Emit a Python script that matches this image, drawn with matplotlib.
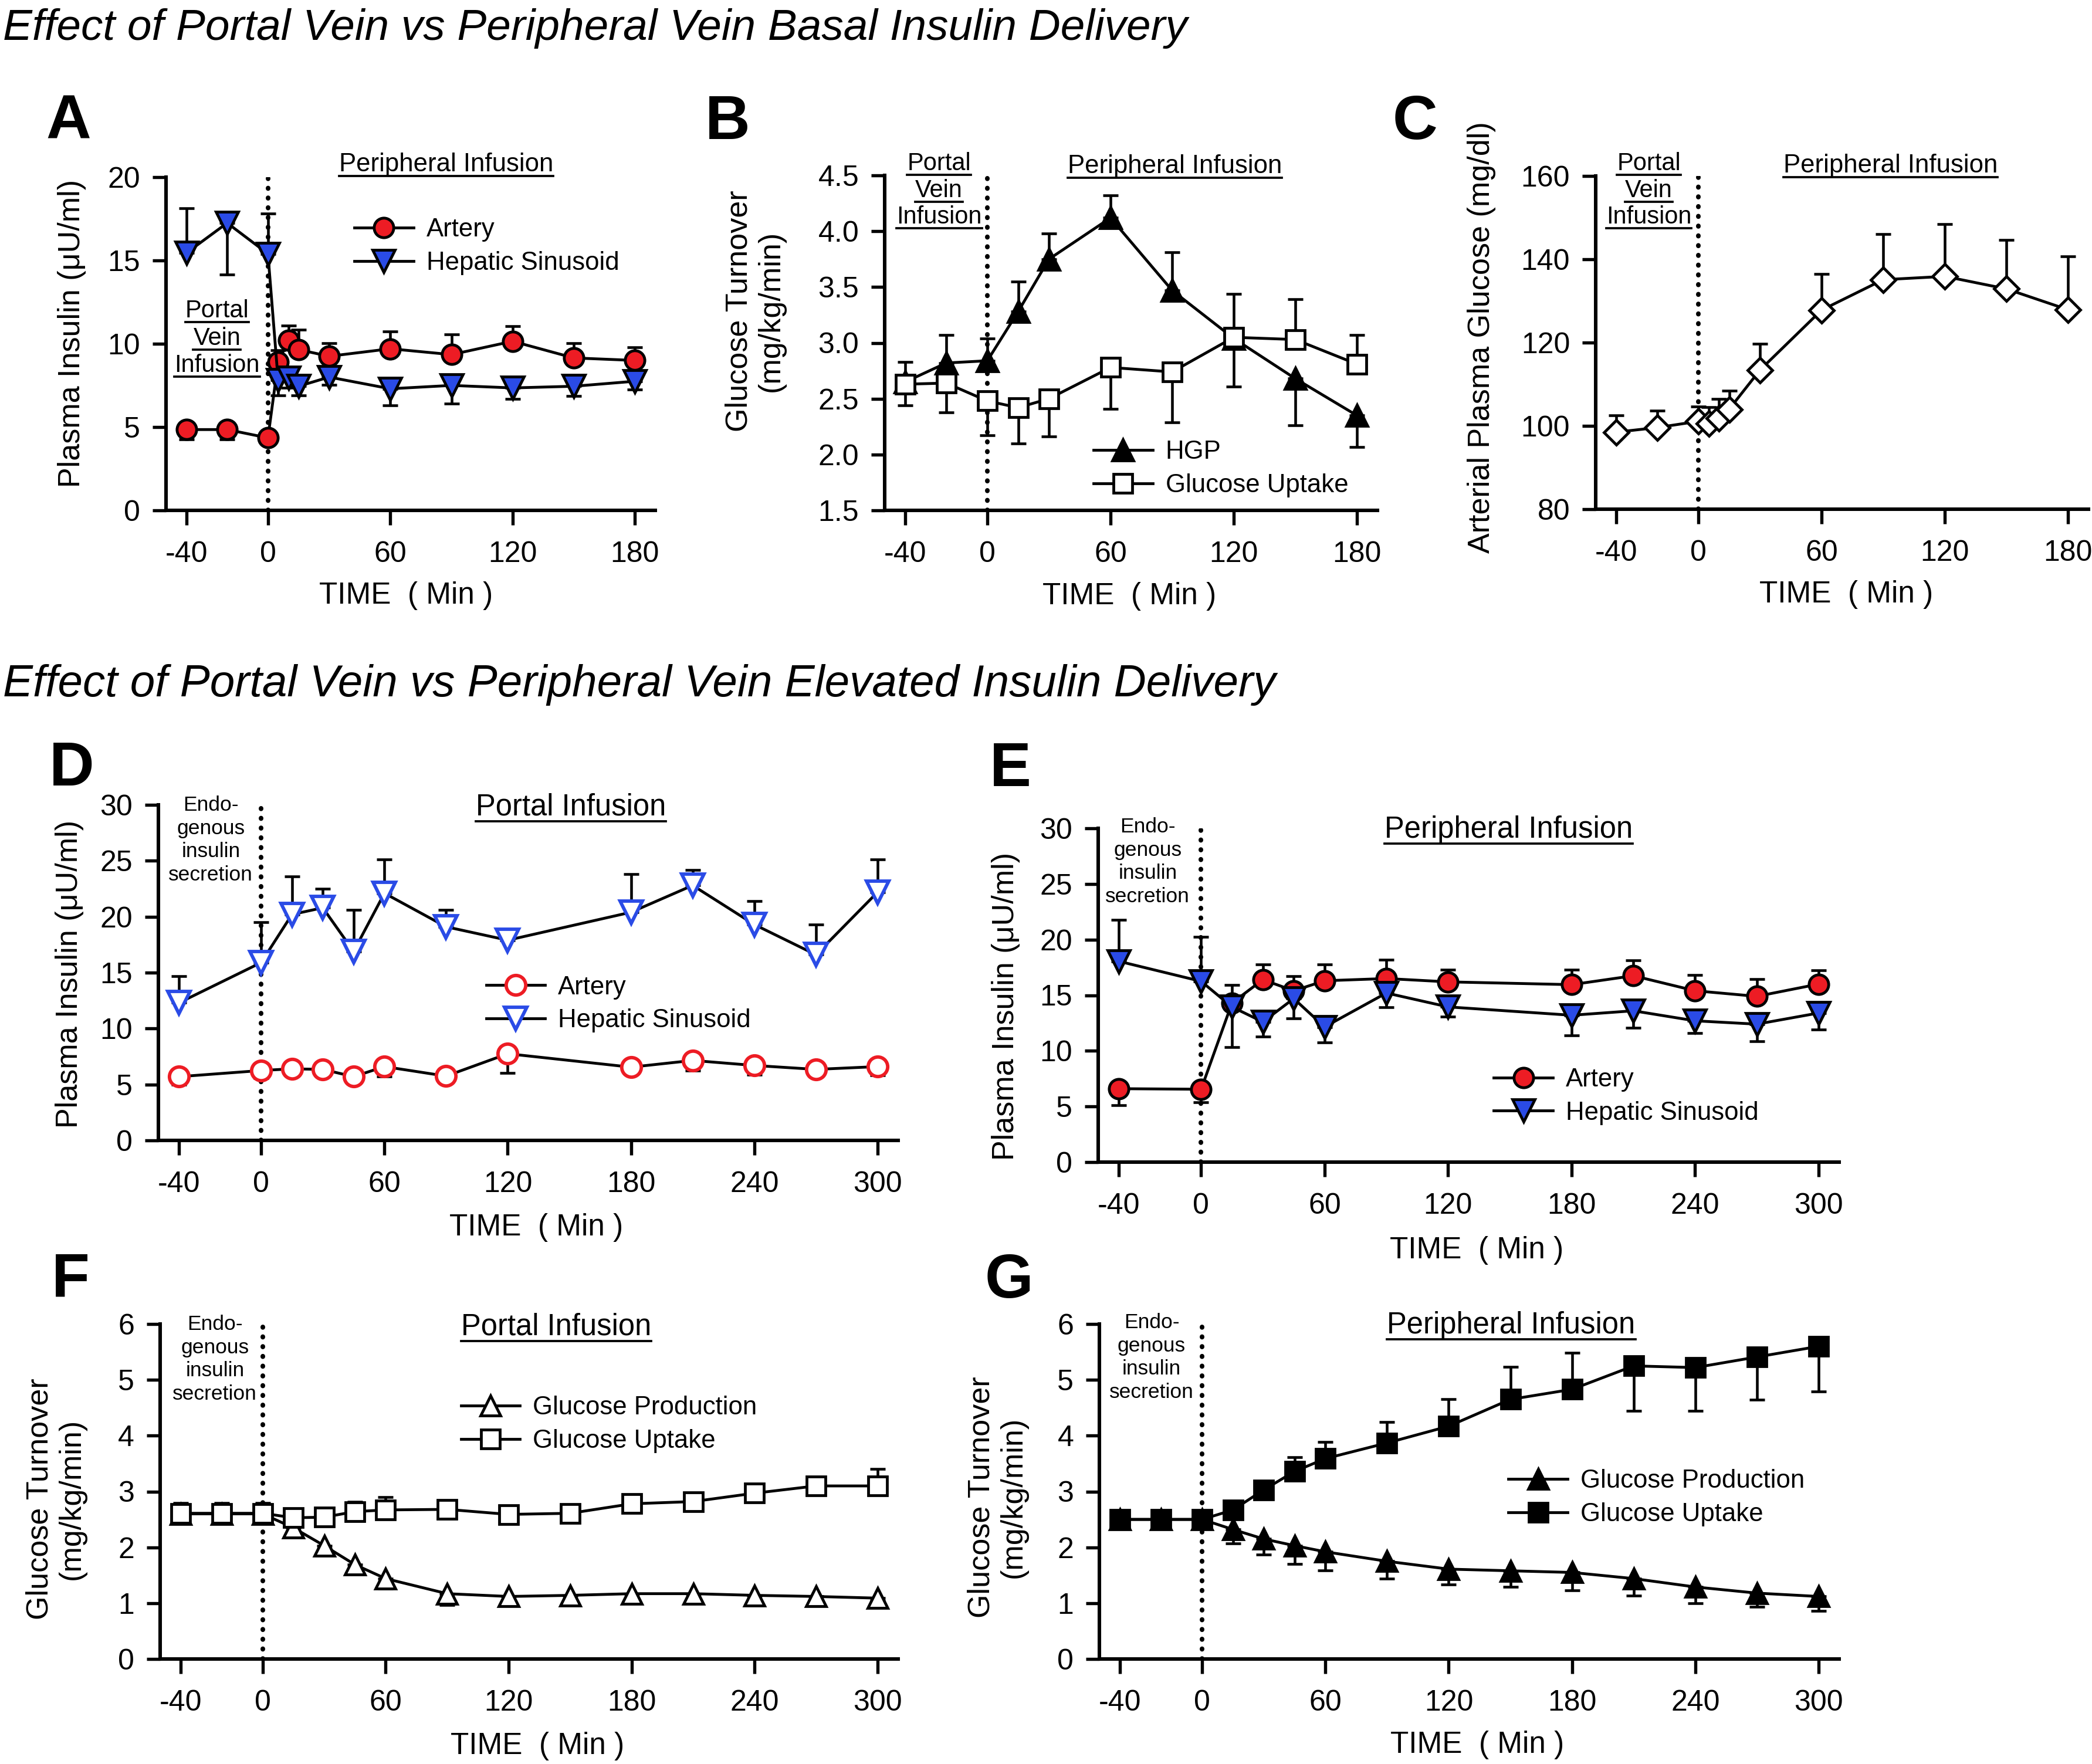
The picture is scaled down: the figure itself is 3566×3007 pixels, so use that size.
import matplotlib
matplotlib.use('Agg')
import matplotlib.pyplot as plt
from matplotlib.lines import Line2D

# ---- data ----
# A: basal insulin, plasma insulin (uU/ml)
a_t = [-40, -20, 0, 5, 10, 15, 30, 60, 90, 120, 150, 180]
a_art = [4.85, 4.85, 4.35, 8.9, 10.2, 9.65, 9.25, 9.7, 9.35, 10.15, 9.15, 9.0]
a_art_lo = [0.6, 0.6, 0, 0, 0, 0, 0, 0, 0, 0, 0, 0]
a_art_hi = [0, 0, 0, 0.7, 0.9, 1.2, 0.8, 1.05, 1.2, 0.9, 0.9, 0.8]
a_sin = [15.45, 17.25, 15.4, 7.8, 7.95, 7.45, 8.0, 7.3, 7.5, 7.35, 7.45, 7.75]
a_sin_lo = [0, 3.1, 0, 0.9, 0.6, 0.55, 0.45, 1.0, 1.1, 0.65, 0.6, 0.5]
a_sin_hi = [2.7, 0, 2.4, 0, 0, 0, 0, 0, 0, 0, 0, 0]

# B: basal insulin, glucose turnover
b_t = [-40, -20, 0, 15, 30, 60, 90, 120, 150, 180]
b_hgp = [2.65, 2.82, 2.84, 3.28, 3.75, 4.12, 3.47, 3.04, 2.68, 2.35]
b_hgp_lo = [0, 0, 0, 0, 0, 0, 0, 0.43, 0.42, 0.28]
b_hgp_hi = [0.18, 0.25, 0.2, 0.27, 0.23, 0.2, 0.34, 0, 0, 0]
b_upt = [2.63, 2.64, 2.48, 2.42, 2.50, 2.78, 2.74, 3.05, 3.03, 2.81]
b_upt_lo = [0.19, 0.26, 0.31, 0.32, 0.34, 0.37, 0.45, 0, 0, 0]
b_upt_hi = [0, 0, 0, 0, 0, 0, 0, 0.39, 0.36, 0.26]

# C: arterial plasma glucose (mg/dl)
c_t = [-40, -20, 0, 5, 10, 15, 30, 60, 90, 120, 150, 180]
c_glu = [98.5, 99.6, 101.1, 100.5, 101.8, 104.0, 113.4, 127.8, 135.1, 135.9, 132.9, 127.9]
c_err = [4.0, 4.0, 3.6, 4.0, 4.7, 4.5, 6.3, 8.7, 10.9, 12.5, 11.7, 12.8]

# D: elevated insulin, portal infusion
d_t = [-40, 0, 15, 30, 45, 60, 90, 120, 180, 210, 240, 270, 300]
d_art = [5.7, 6.25, 6.4, 6.35, 5.7, 6.6, 5.75, 7.75, 6.55, 7.15, 6.7, 6.35, 6.6]
d_art_lo = [0.7, 0.7, 0.6, 0.5, 0.5, 0.9, 0.5, 1.7, 0.6, 0.9, 0.8, 0.5, 0.8]
d_sin = [12.3, 15.9, 20.2, 20.8, 16.9, 22.1, 19.1, 17.9, 20.4, 22.8, 19.3, 16.6, 22.2]
d_sin_hi = [2.4, 3.6, 3.4, 1.7, 3.7, 3.0, 1.5, 0.9, 3.4, 1.4, 2.1, 2.7, 2.9]

# E: elevated insulin, peripheral infusion
e_t = [-40, 0, 15, 30, 45, 60, 90, 120, 180, 210, 240, 270, 300]
e_art = [6.6, 6.55, 14.3, 16.4, 15.4, 16.3, 16.5, 16.2, 15.95, 16.75, 15.4, 14.9, 16.0]
e_art_lo = [1.5, 1.15, 0, 0, 0, 0, 0, 0, 0, 0, 0, 0, 0]
e_art_hi = [0, 0, 1.6, 1.35, 1.3, 1.45, 1.7, 1.1, 1.35, 1.4, 1.4, 1.55, 1.25]
e_sin = [18.05, 16.25, 13.95, 12.6, 14.7, 12.15, 15.2, 13.95, 13.2, 13.6, 12.7, 12.4, 13.4]
e_sin_lo = [0, 0, 3.6, 1.3, 1.8, 1.4, 1.3, 0.9, 1.8, 1.5, 1.1, 1.55, 1.5]
e_sin_hi = [3.7, 4.0, 0, 0, 0, 0, 0, 0, 0, 0, 0, 0, 0]

# F: glucose turnover, portal infusion
f_t = [-40, -20, 0, 15, 30, 45, 60, 90, 120, 150, 180, 210, 240, 270, 300]
f_prod = [2.6, 2.6, 2.6, 2.35, 2.03, 1.69, 1.44, 1.17, 1.12, 1.14, 1.17, 1.17, 1.14, 1.12, 1.09]
f_prod_lo = [0.1, 0.1, 0.1, 0.14, 0.08, 0.15, 0.18, 0.2, 0.16, 0.1, 0.1, 0.08, 0.08, 0.06, 0.05]
f_upt = [2.61, 2.61, 2.61, 2.53, 2.54, 2.64, 2.67, 2.68, 2.59, 2.61, 2.78, 2.82, 2.97, 3.1, 3.1]
f_upt_lo = [0.18, 0.18, 0.18, 0, 0, 0, 0, 0, 0, 0, 0, 0, 0, 0, 0]
f_upt_hi = [0.18, 0.18, 0.18, 0.1, 0.12, 0.18, 0.23, 0.14, 0.1, 0.08, 0.1, 0.14, 0.12, 0.16, 0.3]

# G: glucose turnover, peripheral infusion
g_t = [-40, -20, 0, 15, 30, 45, 60, 90, 120, 150, 180, 210, 240, 270, 300]
g_prod = [2.5, 2.5, 2.5, 2.32, 2.15, 2.03, 1.92, 1.75, 1.61, 1.58, 1.55, 1.44, 1.29, 1.18, 1.12]
g_prod_lo = [0.1, 0.1, 0.1, 0.25, 0.28, 0.33, 0.33, 0.31, 0.28, 0.29, 0.32, 0.3, 0.29, 0.25, 0.26]
g_upt = [2.5, 2.5, 2.5, 2.67, 3.03, 3.36, 3.59, 3.87, 4.17, 4.65, 4.83, 5.25, 5.22, 5.41, 5.6]
g_upt_lo = [0, 0, 0, 0, 0, 0, 0, 0, 0, 0, 0, 0.8, 0.77, 0.77, 0.81]
g_upt_hi = [0.1, 0.1, 0.1, 0.1, 0.1, 0.25, 0.3, 0.37, 0.49, 0.58, 0.65, 0, 0, 0, 0]

ticks_short = [-40, 0, 60, 120, 180]
ticks_long = [-40, 0, 60, 120, 180, 240, 300]

plt.rcParams['font.family'] = ['Liberation Sans', 'DejaVu Sans']
plt.rcParams['axes.unicode_minus'] = False

RED = '#ED1C24'
BLUE = '#2A4BE6'
TICK = 12

fig = plt.figure(figsize=(3566 / 300, 3007 / 300), dpi=300)
W, H = 3566.0, 3007.0


def add_axes(l, r, t, b):
    return fig.add_axes([l / W, 1 - b / H, (r - l) / W, (b - t) / H])


def style(ax, xlim, ylim, xticks, yticks, ylabel, ylab_xy):
    ax.set_xlim(*xlim)
    ax.set_ylim(*ylim)
    ax.set_xticks(xticks)
    ax.set_yticks(yticks)
    for s in ['top', 'right']:
        ax.spines[s].set_visible(False)
    for s in ['left', 'bottom']:
        ax.spines[s].set_linewidth(1.45)
    ax.tick_params(axis='x', direction='out', length=6, width=1.3, pad=6.5, labelsize=TICK)
    ax.tick_params(axis='y', direction='out', length=5.5, width=1.3, pad=5, labelsize=TICK)
    ax.axvline(0, color='k', lw=1.9, ls=(0, (0.1, 2.0)), dash_capstyle='round', zorder=1)
    ax.text(ylab_xy[0], ylab_xy[1], ylabel, rotation=90, ha='center', va='center',
            multialignment='center', transform=ax.transAxes, fontsize=12.5,
            linespacing=1.15)


def series(ax, t, y, lo, hi, marker, face, edge, ms, z=3):
    ax.errorbar(t, y, yerr=[lo, hi], fmt='none', ecolor='k', elinewidth=1.1,
                capsize=3.2, capthick=1.1, zorder=z - 1, clip_on=False)
    h, = ax.plot(t, y, color='k', lw=1.15, marker=marker, ms=ms, mfc=face, mec=edge,
                 mew=1.15, zorder=z, clip_on=False)
    return h


def xlabel(ax, x, y):
    ax.text(x, y, 'TIME  ( Min )', transform=ax.transAxes, ha='center', va='center',
            fontsize=12.3)


underlined = []


def note(ax, x, y, s, size=10.5, under=True):
    t = ax.text(x, y, s, transform=ax.get_xaxis_transform(), ha='center', va='center',
                fontsize=size, clip_on=False)
    if under:
        underlined.append(t)
    return t


def legend(ax, handles, labels, x, y):
    ax.legend(handles, labels, loc='upper left', bbox_to_anchor=(x, y), frameon=False,
              borderpad=0, borderaxespad=0, handlelength=2.3, handletextpad=0.5,
              labelspacing=0.36, prop={'size': 10.5})


# ---- titles and panel letters ----
fig.text(5 / W, 1 - 68 / H, 'Effect of Portal Vein vs Peripheral Vein Basal Insulin Delivery',
         fontsize=17.95, style='italic', va='baseline')
fig.text(5 / W, 1 - 1187 / H, 'Effect of Portal Vein vs Peripheral Vein Elevated Insulin Delivery',
         fontsize=18.35, style='italic', va='baseline')
for letter, x, y in [('A', 78, 237), ('B', 1202, 237), ('C', 2374, 237), ('D', 84, 1339),
                     ('E', 1687, 1340), ('F', 88, 2210), ('G', 1679, 2212)]:
    fig.text(x / W, 1 - y / H, letter, fontsize=25.5, weight='bold', va='baseline')

# ---- A ----
ax = add_axes(283, 1117, 302, 870)
style(ax, (-50, 190), (0, 20), ticks_short, [0, 5, 10, 15, 20], 'Plasma Insulin (μU/ml)', (-0.193, 0.531))
h1 = series(ax, a_t, a_art, a_art_lo, a_art_hi, 'o', RED, 'k', 8)
h2 = series(ax, a_t, a_sin, a_sin_lo, a_sin_hi, 'v', BLUE, 'k', 9, z=4)
legend(ax, [h1, h2], ['Artery', 'Hepatic Sinusoid'], 0.385, 0.878)
xlabel(ax, 0.491, -0.256)
note(ax, 87.4, 1.037, 'Peripheral Infusion')
for s, y in [('Portal', 0.599), ('Vein', 0.515), ('Infusion', 0.434)]:
    note(ax, -25, y, s, size=10)

# ---- B ----
ax = add_axes(1508, 2348, 299, 870)
style(ax, (-50, 190), (1.5, 4.5), ticks_short, [1.5, 2.0, 2.5, 3.0, 3.5, 4.0, 4.5],
      'Glucose Turnover\n(mg/kg/min)', (-0.263, 0.595))
ax.set_yticklabels(['1.5', '2.0', '2.5', '3.0', '3.5', '4.0', '4.5'])
h1 = series(ax, b_t, b_hgp, b_hgp_lo, b_hgp_hi, '^', 'k', 'k', 8.5)
h2 = series(ax, b_t, b_upt, b_upt_lo, b_upt_hi, 's', 'white', 'k', 7.5, z=4)
legend(ax, [h1, h2], ['HGP', 'Glucose Uptake'], 0.424, 0.21)
xlabel(ax, 0.497, -0.256)
note(ax, 91.2, 1.028, 'Peripheral Infusion')
for s, y in [('Portal', 1.035), ('Vein', 0.954), ('Infusion', 0.876)]:
    note(ax, -23.5, y, s, size=10)

# ---- C ----
ax = add_axes(2720, 3560, 300, 868)
style(ax, (-50, 190), (80, 160), ticks_short, [80, 100, 120, 140, 160],
      'Arterial Plasma Glucose (mg/dl)', (-0.232, 0.516))
series(ax, c_t, c_glu, [0] * len(c_err), c_err, 'D', 'white', 'k', 7.2)
xlabel(ax, 0.508, -0.256)
note(ax, 93.6, 1.03, 'Peripheral Infusion')
for s, y in [('Portal', 1.037), ('Vein', 0.956), ('Infusion', 0.877)]:
    note(ax, -24.1, y, s, size=10)

endo = 'Endo-\ngenous\ninsulin\nsecretion'

# ---- D ----
ax = add_axes(270, 1531, 1372, 1944)
style(ax, (-50, 310), (0, 30), ticks_long, [0, 5, 10, 15, 20, 25, 30],
      'Plasma Insulin (μU/ml)', (-0.1205, 0.496))
h1 = series(ax, d_t, d_art, d_art_lo, [0] * len(d_t), 'o', 'white', RED, 8)
h2 = series(ax, d_t, d_sin, [0] * len(d_t), d_sin_hi, 'v', 'white', BLUE, 9)
for h in (h1, h2):
    h.set_markeredgewidth(1.4)
legend(ax, [h1, h2], ['Artery', 'Hepatic Sinusoid'], 0.443, 0.492)
xlabel(ax, 0.511, -0.259)
note(ax, 150.7, 0.993, 'Portal Infusion', size=12.2)
note(ax, -24.5, 0.895, endo, size=8.5, under=False).set_linespacing(1.25)

# ---- E ----
ax = add_axes(1872, 3135, 1412, 1981)
style(ax, (-50, 310), (0, 30), ticks_long, [0, 5, 10, 15, 20, 25, 30],
      'Plasma Insulin (μU/ml)', (-0.125, 0.467))
h1 = series(ax, e_t, e_art, e_art_lo, e_art_hi, 'o', RED, 'k', 8)
h2 = series(ax, e_t, e_sin, e_sin_lo, e_sin_hi, 'v', BLUE, 'k', 9)
legend(ax, [h1, h2], ['Artery', 'Hepatic Sinusoid'], 0.534, 0.283)
xlabel(ax, 0.511, -0.264)
note(ax, 149.5, 0.995, 'Peripheral Infusion', size=12.2)
note(ax, -26, 0.90, endo, size=8.5, under=False).set_linespacing(1.25)

# ---- F ----
ax = add_axes(273, 1531, 2257, 2828)
style(ax, (-50, 310), (0, 6), ticks_long, [0, 1, 2, 3, 4, 5, 6],
      'Glucose Turnover\n(mg/kg/min)', (-0.1415, 0.478))
h1 = series(ax, f_t, f_prod, f_prod_lo, [0] * len(f_t), '^', 'white', 'k', 8)
h2 = series(ax, f_t, f_upt, f_upt_lo, f_upt_hi, 's', 'white', 'k', 7.5, z=4)
legend(ax, [h1, h2], ['Glucose Production', 'Glucose Uptake'], 0.4076, 0.786)
xlabel(ax, 0.511, -0.26)
note(ax, 143.2, 0.991, 'Portal Infusion', size=12.2)
note(ax, -23.3, 0.895, endo, size=8.5, under=False).set_linespacing(1.25)

# ---- G ----
ax = add_axes(1874, 3135, 2257, 2828)
style(ax, (-50, 310), (0, 6), ticks_long, [0, 1, 2, 3, 4, 5, 6],
      'Glucose Turnover\n(mg/kg/min)', (-0.138, 0.483))
h1 = series(ax, g_t, g_prod, g_prod_lo, [0] * len(g_t), '^', 'k', 'k', 8)
h2 = series(ax, g_t, g_upt, g_upt_lo, g_upt_hi, 's', 'k', 'k', 7.5, z=4)
legend(ax, [h1, h2], ['Glucose Production', 'Glucose Uptake'], 0.553, 0.567)
xlabel(ax, 0.511, -0.257)
note(ax, 150.4, 0.996, 'Peripheral Infusion', size=12.2)
note(ax, -24.6, 0.90, endo, size=8.5, under=False).set_linespacing(1.25)

# ---- underline the annotation labels ----
fig.canvas.draw()
rend = fig.canvas.get_renderer()
inv = fig.transFigure.inverted()
for t in underlined:
    bb = t.get_window_extent(rend)
    (x0, y0), (x1, _) = inv.transform([(bb.x0, bb.y0 + 1), (bb.x1, bb.y0 + 1)])
    fig.add_artist(Line2D([x0, x1], [y0, y0], transform=fig.transFigure, color='k', lw=0.9))

fig.savefig('out.png', dpi=300)
